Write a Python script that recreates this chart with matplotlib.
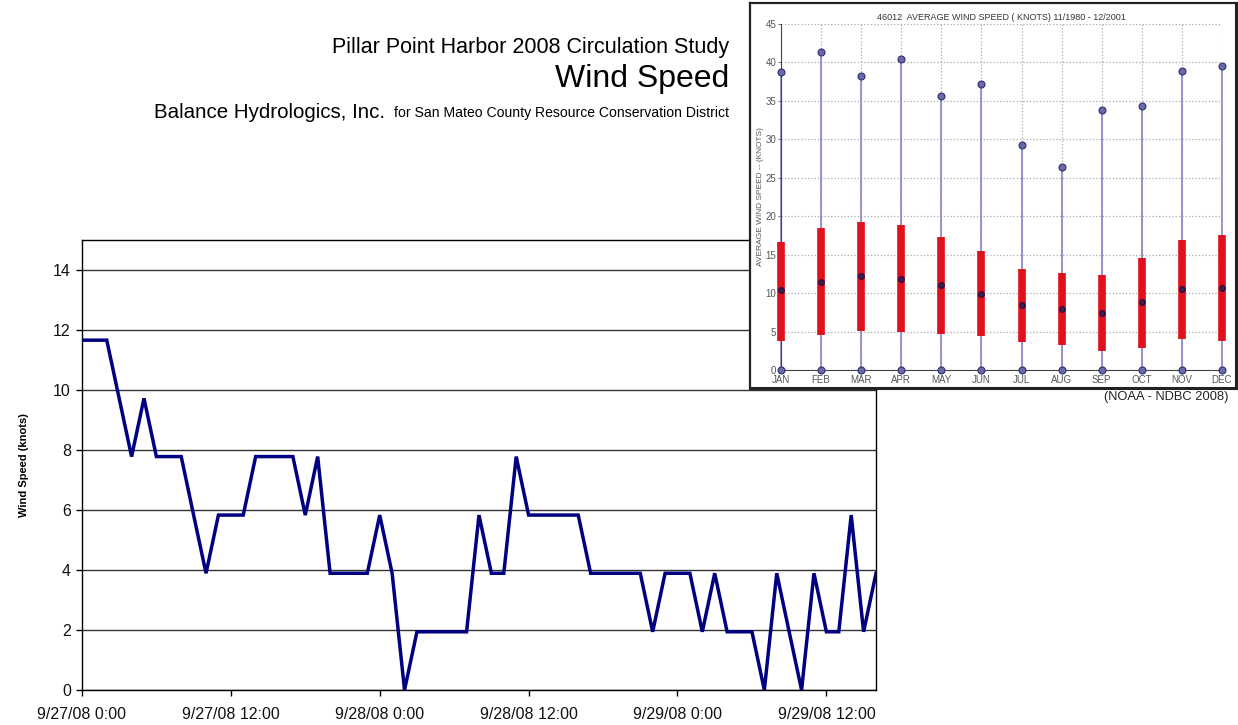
import matplotlib
matplotlib.use("Agg")
import matplotlib.pyplot as plt
import numpy as np

plt.rcParams['font.family'] = ['Liberation Sans', 'DejaVu Sans']

# hourly wind speed (knots), 9/27/08 0:00 to 9/29/08 16:00
hours = np.arange(65)
wind = [11.66, 11.66, 11.66, 9.72, 7.78, 9.72, 7.78, 7.78, 7.78, 5.83,
        3.89, 5.83, 5.83, 5.83, 7.78, 7.78, 7.78, 7.78, 5.83, 7.78,
        3.89, 3.89, 3.89, 3.89, 5.83, 3.89, 0.0, 1.94, 1.94, 1.94,
        1.94, 1.94, 5.83, 3.89, 3.89, 7.78, 5.83, 5.83, 5.83, 5.83,
        5.83, 3.89, 3.89, 3.89, 3.89, 3.89, 1.94, 3.89, 3.89, 3.89,
        1.94, 3.89, 1.94, 1.94, 1.94, 0.0, 3.89, 1.94, 0.0, 3.89,
        1.94, 1.94, 5.83, 1.94, 3.89]
tick_hours = [0, 12, 24, 36, 48, 60]
tick_labels = ['9/27/08 0:00', '9/27/08 12:00', '9/28/08 0:00',
               '9/28/08 12:00', '9/29/08 0:00', '9/29/08 12:00']

# NDBC 46012 monthly statistics (knots)
months = ['JAN', 'FEB', 'MAR', 'APR', 'MAY', 'JUN',
          'JUL', 'AUG', 'SEP', 'OCT', 'NOV', 'DEC']
m_max = [38.8, 41.4, 38.3, 40.4, 35.7, 37.2, 29.3, 26.4, 33.8, 34.3, 38.9, 39.5]
m_hi = [16.7, 18.5, 19.2, 18.8, 17.3, 15.5, 13.1, 12.6, 12.3, 14.6, 16.9, 17.6]
m_med = [10.4, 11.5, 12.2, 11.9, 11.0, 9.9, 8.4, 7.9, 7.4, 8.8, 10.5, 10.7]
m_lo = [3.8, 4.5, 5.1, 4.9, 4.7, 4.4, 3.7, 3.3, 2.5, 2.8, 4.0, 3.8]
m_min = [0] * 12

fig = plt.figure(figsize=(12.38, 7.25), dpi=100)

# main time series
ax = fig.add_axes([0.0662, 0.0483, 0.6414, 0.6207])
ax.plot(hours, wind, color='#000080', lw=2.5, solid_joinstyle='miter', zorder=3)
ax.set_xlim(0, 64)
ax.set_ylim(0, 15)
ax.set_yticks(range(0, 15, 2))
ax.set_xticks(tick_hours)
ax.set_xticklabels(tick_labels)
ax.tick_params(axis='both', labelsize=11.5, direction='out', length=4,
               width=1, color='black', labelcolor='#111111')
ax.tick_params(axis='y', pad=4)
ax.tick_params(axis='x', pad=8)
ax.grid(axis='y', color='#333333', lw=1)
for s in ax.spines.values():
    s.set_color('black')
    s.set_linewidth(1)
ax.set_ylabel('Wind Speed (knots)', fontsize=8, fontweight='bold', labelpad=17)

# titles
fig.text(729 / 1238, 1 - 48 / 725, 'Pillar Point Harbor 2008 Circulation Study',
         ha='right', va='center', fontsize=15.5)
fig.text(729 / 1238, 1 - 79 / 725, 'Wind Speed', ha='right', va='center', fontsize=23)
fig.text(154 / 1238, 1 - 112 / 725, 'Balance Hydrologics, Inc.',
         ha='left', va='center', fontsize=14.8)
fig.text(729 / 1238, 1 - 113 / 725,
         'for San Mateo County Resource Conservation District',
         ha='right', va='center', fontsize=10.1)

# inset frame
frame = fig.add_axes([750 / 1238, 1 - 388 / 725, 486 / 1238, 385 / 725], zorder=3)
frame.set_xticks([])
frame.set_yticks([])
for s in frame.spines.values():
    s.set_linewidth(1.6)
    s.set_color('#222222')
frame.spines['bottom'].set_linewidth(2.2)
frame.spines['right'].set_linewidth(2.2)

ins = fig.add_axes([781 / 1238, 1 - 370 / 725, 441 / 1238, 346 / 725], zorder=4)
ins.set_facecolor('none')
x = np.arange(1, 13)
ins.vlines(x, m_min, m_max, color='#8585c8', lw=1.2, zorder=2, clip_on=False)
ins.vlines(x, m_lo, m_hi, color='#e0101c', lw=5.5, zorder=3, clip_on=False)
ins.plot(x, m_max, 'o', ms=5, mfc='#6a6aa8', mec='#303070', mew=0.8, zorder=4, clip_on=False)
ins.plot(x, m_min, 'o', ms=5, mfc='#6a6aa8', mec='#303070', mew=0.8, zorder=4, clip_on=False)
ins.plot(x, m_med, 'o', ms=4, mfc='#402050', mec='#301040', zorder=4, clip_on=False)
ins.set_xlim(1, 12)
ins.set_ylim(0, 45)
ins.set_yticks(range(0, 46, 5))
ins.set_xticks(x)
ins.set_xticklabels(months)
ins.tick_params(labelsize=7, labelcolor='#555555', length=2, width=0.6,
                color='#555555', pad=1.5)
ins.grid(True, color='#aaaaaa', ls=':', lw=0.9)
ins.spines['top'].set_visible(False)
ins.spines['right'].set_visible(False)
ins.spines['left'].set_color('#444444')
ins.spines['bottom'].set_color('#444444')
ins.set_title('46012  AVERAGE WIND SPEED ( KNOTS) 11/1980 - 12/2001',
              fontsize=6.5, color='#333333', pad=3)
ins.set_ylabel('AVERAGE WIND SPEED -- (KNOTS)', fontsize=6, color='#555555', labelpad=1)

fig.text(1228 / 1238, 1 - 397 / 725, '(NOAA - NDBC 2008)', ha='right', va='center',
         fontsize=9.3, color='#222222')

fig.savefig('out.png', dpi=100)
